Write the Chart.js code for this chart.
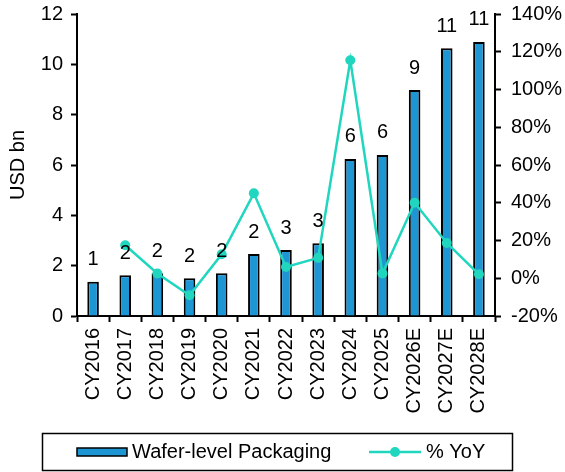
<!DOCTYPE html>
<html>
<head>
<meta charset="utf-8">
<script src="https://cdn.jsdelivr.net/npm/chart.js@4.4.1/dist/chart.umd.min.js"></script>
<style>
  html, body { margin: 0; padding: 0; background: #fff; }
  #wrap { width: 565px; height: 472px; }
</style>
</head>
<body>
<div id="wrap"><canvas id="chart-wlp"></canvas></div>
<script>
// Wafer-level packaging market size and YoY growth
const years = ['CY2016', 'CY2017', 'CY2018', 'CY2019', 'CY2020', 'CY2021', 'CY2022',
    'CY2023', 'CY2024', 'CY2025', 'CY2026E', 'CY2027E', 'CY2028E'];
const revenue = [1.36, 1.62, 1.70, 1.50, 1.70, 2.46, 2.62, 2.89, 6.24, 6.40, 8.98, 10.64, 10.89];
const yoy = [null, 17.5, 2.5, -9, 12.7, 45, 6, 10.8, 115.5, 2.5, 40, 18.7, 2.1];
const leftTicks = [0, 12, 2];
const rightTicks = [-20, 140, 20];

const barColor = '#1e96d4';
const lineColor = '#20d6be';
const fontFamily = '"Liberation Sans", Arial, sans-serif';
const font = { family: fontFamily, size: 20 };

// numbers on top of the bars
const barLabels = {
    id: 'barLabels',
    afterDatasetsDraw(chart) {
        const ctx = chart.ctx;
        const meta = chart.getDatasetMeta(1);
        ctx.save();
        ctx.font = '20px ' + fontFamily;
        ctx.fillStyle = '#000';
        ctx.textAlign = 'center';
        ctx.textBaseline = 'middle';
        meta.data.forEach((bar, i) => {
            ctx.fillText(String(Math.round(revenue[i])), bar.x, bar.y - 22);
        });
        ctx.restore();
    }
};

// boxed legend under the axis labels
const boxLegend = {
    id: 'boxLegend',
    afterDraw(chart) {
        const ctx = chart.ctx;
        ctx.save();
        ctx.strokeStyle = '#000';
        ctx.lineWidth = 1.5;
        ctx.strokeRect(42.5, 433.5, 470, 37);

        ctx.fillStyle = barColor;
        ctx.fillRect(77, 448, 50, 8);
        ctx.lineWidth = 1.5;
        ctx.strokeRect(77, 448, 50, 8);

        ctx.strokeStyle = lineColor;
        ctx.lineWidth = 2.5;
        ctx.beginPath();
        ctx.moveTo(369, 452);
        ctx.lineTo(421, 452);
        ctx.stroke();
        ctx.fillStyle = lineColor;
        ctx.beginPath();
        ctx.arc(395, 452, 5, 0, Math.PI * 2);
        ctx.fill();

        ctx.fillStyle = '#000';
        ctx.font = '20px ' + fontFamily;
        ctx.textBaseline = 'middle';
        ctx.textAlign = 'left';
        ctx.fillText(chart.data.datasets[1].label, 132, 452);
        ctx.fillText(chart.data.datasets[0].label, 426, 452);
        ctx.restore();
    }
};

const axisLine = { display: true, color: '#000', width: 2 };

// fixed width, and no extra room reserved for the half labels
const fitY = (w) => (axis) => {
    axis.width = w;
    axis.paddingTop = 0;
    axis.paddingBottom = 0;
};

new Chart(document.getElementById('chart-wlp').getContext('2d'), {
    type: 'bar',
    data: {
        labels: years,
        datasets: [
            {
                type: 'line',
                label: '% YoY',
                data: yoy,
                yAxisID: 'y1',
                borderColor: lineColor,
                backgroundColor: lineColor,
                borderWidth: 2.5,
                pointRadius: 5,
                pointBackgroundColor: lineColor,
                pointBorderWidth: 0,
                tension: 0,
                spanGaps: false,
                order: 0
            },
            {
                type: 'bar',
                label: 'Wafer-level Packaging',
                data: revenue,
                yAxisID: 'y',
                backgroundColor: barColor,
                borderColor: '#000',
                borderWidth: 2,
                borderSkipped: 'bottom',
                categoryPercentage: 1,
                barPercentage: 0.36,
                order: 1
            }
        ]
    },
    options: {
        responsive: true,
        maintainAspectRatio: false,
        animation: false,
        layout: { padding: { top: 14, bottom: 56, left: 0, right: 0 } },
        plugins: {
            legend: { display: false },
            tooltip: { enabled: false }
        },
        scales: {
            x: {
                offset: true,
                grid: { display: true, drawOnChartArea: false, drawTicks: true, tickLength: 6, tickWidth: 2, tickColor: '#000', offset: true },
                border: axisLine,
                ticks: { color: '#000', font: font, maxRotation: 90, minRotation: 90, padding: 6, autoSkip: false },
                afterFit: (axis) => { axis.height = 100; axis.paddingLeft = 0; axis.paddingRight = 0; }
            },
            y: {
                position: 'left',
                min: leftTicks[0],
                max: leftTicks[1],
                grid: { display: true, drawOnChartArea: false, tickLength: 6, tickWidth: 2, tickColor: '#000' },
                border: axisLine,
                ticks: { stepSize: leftTicks[2], color: '#000', font: font, padding: 8 },
                title: { display: true, text: 'USD bn', color: '#000', font: font, padding: { top: 6, bottom: 0 } },
                afterFit: fitY(77)
            },
            y1: {
                position: 'right',
                min: rightTicks[0],
                max: rightTicks[1],
                grid: { display: true, drawOnChartArea: false, tickLength: 6, tickWidth: 2, tickColor: '#000' },
                border: axisLine,
                ticks: { stepSize: rightTicks[2], color: '#000', font: font, padding: 10, callback: (v) => v + '%' },
                afterFit: fitY(70)
            }
        }
    },
    plugins: [barLabels, boxLegend]
});
</script>
</body>
</html>
